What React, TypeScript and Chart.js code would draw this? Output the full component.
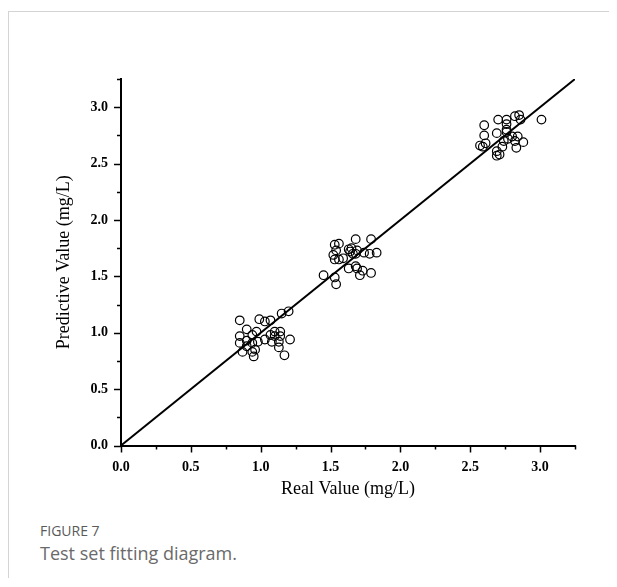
import React, { useEffect, useRef } from 'react';
import { Chart, registerables } from 'chart.js';
Chart.register(...registerables);

const REAL_LOW = [0.85, 0.99, 1.03, 1.07, 1.15, 1.20, 0.90, 0.85, 0.94, 0.97, 0.85, 0.90, 0.90, 0.94, 0.98, 1.03, 1.07, 1.10, 1.14, 1.10, 1.14, 1.08, 1.13, 1.21, 0.87, 0.94, 0.95, 0.96, 1.13, 1.17];
const PRED_LOW = [1.11, 1.12, 1.10, 1.11, 1.17, 1.19, 1.03, 0.97, 0.98, 1.01, 0.91, 0.93, 0.88, 0.91, 0.92, 0.94, 0.98, 1.01, 1.01, 0.97, 0.97, 0.92, 0.92, 0.94, 0.83, 0.83, 0.79, 0.85, 0.87, 0.80];
const REAL_MID = [1.68, 1.79, 1.53, 1.56, 1.54, 1.63, 1.65, 1.69, 1.74, 1.78, 1.83, 1.52, 1.53, 1.56, 1.59, 1.64, 1.68, 1.66, 1.45, 1.53, 1.54, 1.63, 1.68, 1.69, 1.73, 1.71, 1.79];
const PRED_MID = [1.83, 1.83, 1.78, 1.79, 1.73, 1.74, 1.75, 1.73, 1.71, 1.70, 1.71, 1.69, 1.65, 1.65, 1.66, 1.72, 1.70, 1.70, 1.51, 1.49, 1.43, 1.57, 1.59, 1.57, 1.55, 1.51, 1.53];
const REAL_HIGH = [2.60, 2.70, 2.76, 2.76, 2.82, 2.85, 2.86, 3.01, 2.60, 2.69, 2.76, 2.76, 2.57, 2.61, 2.59, 2.74, 2.80, 2.84, 2.82, 2.88, 2.73, 2.83, 2.69, 2.69, 2.71, 2.77];
const PRED_HIGH = [2.84, 2.89, 2.89, 2.85, 2.92, 2.93, 2.89, 2.89, 2.75, 2.77, 2.80, 2.78, 2.66, 2.68, 2.65, 2.70, 2.74, 2.74, 2.70, 2.69, 2.65, 2.64, 2.61, 2.57, 2.58, 2.72];

const FIT_LINE_X = [0, 3.25];
const FIT_LINE_Y = [0, 3.25];

const AXIS_MIN = 0;
const AXIS_MAX = 3.25;
const MAJOR_TICKS = [0, 0.5, 1.0, 1.5, 2.0, 2.5, 3.0];
const MINOR_TICKS = [0.25, 0.75, 1.25, 1.75, 2.25, 2.75, 3.25];

const X_TITLE = 'Real Value (mg/L)';
const Y_TITLE = 'Predictive Value (mg/L)';
const FIG_LABEL = 'FIGURE 7';
const FIG_CAPTION = 'Test set fitting diagram.';

const tickPlugin = {
  id: 'outerTicks',
  afterDraw(chart: any) {
    const { ctx, scales, chartArea } = chart;
    const xs = scales.x;
    const ys = scales.y;
    ctx.save();
    ctx.strokeStyle = '#000';
    ctx.lineWidth = 1.5;
    const draw = (vals: number[], len: number) => {
      vals.forEach((v) => {
        const px = Math.round(xs.getPixelForValue(v)) + 0.5;
        ctx.beginPath();
        ctx.moveTo(px, chartArea.bottom);
        ctx.lineTo(px, chartArea.bottom + len);
        ctx.stroke();
        const py = Math.round(ys.getPixelForValue(v)) + 0.5;
        ctx.beginPath();
        ctx.moveTo(chartArea.left, py);
        ctx.lineTo(chartArea.left - len, py);
        ctx.stroke();
      });
    };
    draw(MAJOR_TICKS, 7);
    draw(MINOR_TICKS, 4);
    ctx.restore();
  },
};

export default function App() {
  const ref = useRef<HTMLCanvasElement | null>(null);
  useEffect(() => {
    if (!ref.current) return;
    const pts = (xs: number[], ys: number[]) => xs.map((x, i) => ({ x, y: ys[i] }));
    const pointStyle = {
      type: 'scatter' as const,
      pointRadius: 4.3,
      pointBorderWidth: 1.2,
      pointBorderColor: '#000',
      pointBackgroundColor: 'rgba(255,255,255,0)',
      showLine: false,
    };
    const serif = '"Liberation Serif", "Times New Roman", serif';
    const chart = new Chart(ref.current, {
      type: 'scatter',
      data: {
        datasets: [
          {
            type: 'line' as const,
            data: pts(FIT_LINE_X, FIT_LINE_Y),
            borderColor: '#000',
            borderWidth: 2,
            pointRadius: 0,
            fill: false,
          } as any,
          { ...pointStyle, data: pts(REAL_LOW, PRED_LOW) } as any,
          { ...pointStyle, data: pts(REAL_MID, PRED_MID) } as any,
          { ...pointStyle, data: pts(REAL_HIGH, PRED_HIGH) } as any,
        ],
      },
      options: {
        animation: false,
        responsive: false,
        maintainAspectRatio: false,
        layout: { padding: { left: 0, right: 42, top: 67, bottom: 0 } },
        plugins: { legend: { display: false }, tooltip: { enabled: false } },
        scales: {
          x: {
            type: 'linear',
            min: AXIS_MIN,
            max: AXIS_MAX,
            afterBuildTicks: (s: any) => {
              s.ticks = MAJOR_TICKS.map((v) => ({ value: v }));
            },
            afterFit: (s: any) => {
              s.height = 54.5;
            },
            grid: { display: false, drawTicks: false, tickLength: 0 },
            border: { display: true, color: '#000', width: 2 },
            ticks: {
              color: '#000',
              padding: 13,
              maxRotation: 0,
              font: { family: serif, size: 14, weight: 'bold' },
              callback: (v: any) => Number(v).toFixed(1),
            },
            title: {
              display: true,
              text: X_TITLE,
              color: '#000',
              padding: { top: 0, bottom: 0 },
              font: { family: serif, size: 18 },
            },
          },
          y: {
            type: 'linear',
            min: AXIS_MIN,
            max: AXIS_MAX,
            afterBuildTicks: (s: any) => {
              s.ticks = MAJOR_TICKS.map((v) => ({ value: v }));
            },
            afterFit: (s: any) => {
              s.width = 112;
            },
            grid: { display: false, drawTicks: false, tickLength: 0 },
            border: { display: true, color: '#000', width: 2 },
            ticks: {
              color: '#000',
              padding: 13,
              font: { family: serif, size: 14, weight: 'bold' },
              callback: (v: any) => Number(v).toFixed(1),
            },
            title: {
              display: true,
              text: Y_TITLE,
              color: '#000',
              padding: { top: 44, bottom: 0 },
              font: { family: serif, size: 18 },
            },
          },
        },
      },
      plugins: [tickPlugin],
    });
    return () => chart.destroy();
  }, []);

  return (
    <div style={{ paddingTop: 3 }}>
      <div
        style={{
          position: 'relative',
          borderTop: '1px solid #d4d4d4',
          borderLeft: '1px solid #d4d4d4',
          width: 608,
          height: 566,
        }}
      >
        <canvas ref={ref} width={608} height={488} style={{ position: 'absolute', left: 0, top: 0, width: 608, height: 488 }} />
        <div
          style={{
            position: 'absolute',
            left: 31,
            top: 510,
            fontFamily: '"Open Sans", "Noto Sans", sans-serif',
            fontSize: 14,
            lineHeight: '17px',
            color: '#5a5a5a',
          }}
        >
          {FIG_LABEL}
        </div>
        <div
          style={{
            position: 'absolute',
            left: 31,
            top: 530,
            fontFamily: '"Open Sans", "Noto Sans", sans-serif',
            fontSize: 18,
            lineHeight: '22px',
            color: '#6a6a6a',
            whiteSpace: 'nowrap',
          }}
        >
          {FIG_CAPTION}
        </div>
      </div>
    </div>
  );
}
